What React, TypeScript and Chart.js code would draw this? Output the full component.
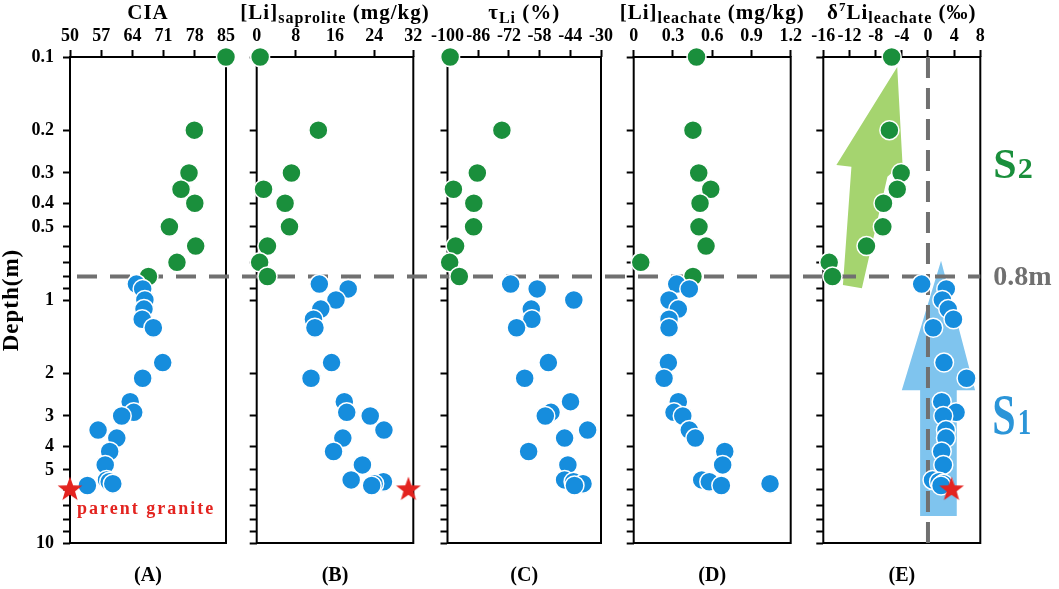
import React, { useEffect, useRef } from 'react';
import { Chart, registerables } from 'chart.js';

Chart.register(...registerables);

const SERIF = '"Liberation Serif", "Times New Roman", serif';
const GREEN = '#1a8f3c';
const BLUE = '#168ddd';
const GRAY = '#707070';
const RED = '#e3231f';
const H = 589;

// sample depths (m): upper profile S2 (green) and lower profile S1 (blue)
const upperDepth = [0.1, 0.2, 0.3, 0.35, 0.4, 0.5, 0.6, 0.7, 0.8];
const lowerDepth = [0.86, 0.9, 1.0, 1.09, 1.2, 1.3, 1.81, 2.1, 2.62, 2.9, 3.0, 3.43, 3.7, 4.2, 4.77, 5.5, 5.6, 5.7, 5.8];
const graniteDepth = 6;
const boundaryDepth = 0.8;

const depthTicks = [0.1, 0.2, 0.3, 0.4, 0.5, 0.6, 0.7, 0.8, 0.9, 1, 2, 3, 4, 5, 6, 7, 8, 9, 10];
const depthLabels = [0.1, 0.2, 0.3, 0.4, 0.5, 1, 2, 3, 4, 5, 10];

// (A) CIA
const ciaUpper = [85, 77.9, 76.7, 74.9, 78.0, 72.3, 78.2, 74.0, 67.6];
const ciaLower = [64.9, 66.3, 66.8, 66.6, 66.2, 68.7, 70.8, 66.3, 63.5, 64.3, 61.6, 56.3, 60.5, 58.9, 57.9, 58.2, 58.8, 59.6, 53.9];
const ciaGranite = 50;

// (B) [Li] saprolite (mg/kg)
const liSapUpper = [0.7, 12.6, 7.1, 1.4, 5.8, 6.7, 2.2, 0.6, 2.2];
const liSapLower = [12.8, 18.7, 16.2, 13.1, 11.6, 11.9, 15.3, 11.1, 17.9, 18.4, 23.2, 26.0, 17.6, 15.7, 21.6, 19.3, 25.9, 24.0, 23.5];
const liSapGranite = 31;

// (C) tau Li (%)
const tauUpper = [-98.8, -75.2, -86.4, -97.3, -88.0, -88.1, -96.3, -99.0, -94.6];
const tauLower = [-71.2, -59.1, -42.4, -61.8, -61.5, -68.5, -54.0, -64.8, -43.9, -52.8, -55.4, -36.1, -46.6, -63.0, -45.1, -46.6, -42.5, -38.2, -42.1];

// (D) [Li] leachate (mg/kg)
const liLeachUpper = [0.48, 0.453, 0.497, 0.589, 0.507, 0.499, 0.553, 0.054, 0.453];
const liLeachLower = [0.329, 0.425, 0.27, 0.341, 0.27, 0.27, 0.265, 0.232, 0.341, 0.308, 0.375, 0.425, 0.471, 0.696, 0.68, 0.52, 0.578, 1.042, 0.67];

// (E) d7Li leachate (permil)
const d7Upper = [-5.55, -5.9, -4.1, -4.7, -6.8, -6.9, -9.4, -15.1, -14.6];
const d7Lower = [-0.96, 2.8, 2.2, 3.1, 3.9, 0.8, 2.45, 5.9, 2.1, 4.3, 2.34, 2.75, 2.75, 2.1, 2.34, 0.7, 1.7, 2.34, 2.0];
const d7Granite = 3.6;

// trend arrows in panel (E), outline in data units
const s2ArrowDelta = [-4.7, -3.9, -6.2, -10.1, -13.0, -11.7, -14.0];
const s2ArrowDepth = [0.11, 0.274, 0.311, 0.895, 0.867, 0.283, 0.278];
const s1ArrowDelta = [2.0, 7.2, 4.4, 4.4, -1.2, -1.2, -4.0];
const s1ArrowDepth = [0.69, 2.35, 2.35, 7.74, 7.74, 2.35, 2.35];

type Seg = { t: string; k: 'm' | 's' | 'p' };
const segSize = { m: 21, s: 16, p: 13 };
const segShift = { m: 0, s: 4, p: -8 };

interface PanelDef {
  tag: string;
  left: number;
  width: number;
  plotLeft: number;
  plotRight: number;
  min: number;
  max: number;
  step: number;
  title: Seg[];
  upper: number[];
  lower: number[];
  granite?: number;
}

const panels: PanelDef[] = [
  { tag: '(A)', left: 0, width: 240, plotLeft: 70, plotRight: 227, min: 50, max: 85, step: 7,
    title: [{ t: 'CIA', k: 'm' }], upper: ciaUpper, lower: ciaLower, granite: ciaGranite },
  { tag: '(B)', left: 240, width: 188, plotLeft: 256.7, plotRight: 413.3, min: 0, max: 32, step: 8,
    title: [{ t: '[Li]', k: 'm' }, { t: 'saprolite', k: 's' }, { t: ' (mg/kg)', k: 'm' }],
    upper: liSapUpper, lower: liSapLower, granite: liSapGranite },
  { tag: '(C)', left: 428, width: 189, plotLeft: 444.7, plotRight: 601, min: -100, max: -30, step: 14,
    title: [{ t: 'τ', k: 'm' }, { t: 'Li', k: 's' }, { t: ' (%)', k: 'm' }], upper: tauUpper, lower: tauLower },
  { tag: '(D)', left: 617, width: 189, plotLeft: 633.7, plotRight: 790.7, min: 0, max: 1.2, step: 0.3,
    title: [{ t: '[Li]', k: 'm' }, { t: 'leachate', k: 's' }, { t: ' (mg/kg)', k: 'm' }],
    upper: liLeachUpper, lower: liLeachLower },
  { tag: '(E)', left: 806, width: 253, plotLeft: 823.3, plotRight: 980.3, min: -16, max: 8, step: 4,
    title: [{ t: 'δ', k: 'm' }, { t: '7', k: 'p' }, { t: 'Li', k: 'm' }, { t: 'leachate', k: 's' }, { t: ' (‰)', k: 'm' }],
    upper: d7Upper, lower: d7Lower, granite: d7Granite },
];

function makeStar(): HTMLCanvasElement {
  const c = document.createElement('canvas');
  c.width = 28;
  c.height = 28;
  const g = c.getContext('2d')!;
  g.beginPath();
  for (let i = 0; i < 10; i++) {
    const r = i % 2 === 0 ? 13 : 5.3;
    const a = -Math.PI / 2 + (i * Math.PI) / 5;
    const px = 14 + r * Math.cos(a);
    const py = 14.5 + r * Math.sin(a);
    if (i === 0) g.moveTo(px, py); else g.lineTo(px, py);
  }
  g.closePath();
  g.fillStyle = RED;
  g.fill();
  return c;
}

function drawRich(ctx: CanvasRenderingContext2D, segs: Seg[], cx: number, baseline: number) {
  ctx.save();
  (ctx as any).letterSpacing = '1px';
  ctx.textAlign = 'left';
  ctx.textBaseline = 'alphabetic';
  ctx.fillStyle = '#000';
  const widths = segs.map((s) => {
    ctx.font = `bold ${segSize[s.k]}px ${SERIF}`;
    return ctx.measureText(s.t).width;
  });
  let x = cx - widths.reduce((a, b) => a + b, 0) / 2;
  segs.forEach((s, i) => {
    ctx.font = `bold ${segSize[s.k]}px ${SERIF}`;
    ctx.fillText(s.t, x, baseline + segShift[s.k]);
    x += widths[i];
  });
  ctx.restore();
}

function drawPolygon(chart: Chart, xs: number[], ds: number[], color: string) {
  const { ctx } = chart;
  const x = chart.scales.x;
  const y = chart.scales.y;
  ctx.beginPath();
  xs.forEach((v, i) => {
    const px = x.getPixelForValue(v);
    const py = y.getPixelForValue(ds[i]);
    if (i === 0) ctx.moveTo(px, py); else ctx.lineTo(px, py);
  });
  ctx.closePath();
  ctx.fillStyle = color;
  ctx.fill();
}

const decoPlugin = (p: PanelDef) => ({
  id: 'deco',
  beforeDatasetsDraw(chart: Chart) {
    const { ctx, chartArea: a } = chart;
    const x = chart.scales.x;
    const y = chart.scales.y;
    const isA = p.tag === '(A)';
    const isE = p.tag === '(E)';
    ctx.save();
    if (isE) {
      drawPolygon(chart, s2ArrowDelta, s2ArrowDepth, '#a5d46f');
      drawPolygon(chart, s1ArrowDelta, s1ArrowDepth, '#7fc4ee');
    }
    ctx.strokeStyle = '#000';
    ctx.lineWidth = 2;
    ctx.strokeRect(a.left, a.top, a.right - a.left, a.bottom - a.top);

    ctx.strokeStyle = GRAY;
    ctx.lineWidth = 4;
    if (isE) {
      const zx = x.getPixelForValue(0);
      ctx.setLineDash([21, 10]);
      ctx.lineDashOffset = 0;
      ctx.beginPath();
      ctx.moveTo(zx, a.top);
      ctx.lineTo(zx, a.bottom);
      ctx.stroke();
    }
    const by = y.getPixelForValue(boundaryDepth);
    const x0 = isA ? a.left : 0;
    const x1 = isE ? a.right : chart.width;
    ctx.setLineDash([20, 13]);
    ctx.lineDashOffset = (((p.left + x0 - 77) % 33) + 33) % 33;
    ctx.beginPath();
    ctx.moveTo(x0, by);
    ctx.lineTo(x1, by);
    ctx.stroke();
    ctx.restore();
  },
  afterDraw(chart: Chart) {
    const { ctx, chartArea: a } = chart;
    const y = chart.scales.y;
    const cx = (a.left + a.right) / 2;
    drawRich(ctx, p.title, cx, 19);
    ctx.save();
    ctx.fillStyle = '#000';
    ctx.font = `bold 20px ${SERIF}`;
    ctx.textAlign = 'center';
    ctx.textBaseline = 'middle';
    ctx.fillText(p.tag, cx, 576);

    if (p.tag === '(A)') {
      ctx.save();
      (ctx as any).letterSpacing = '1px';
      ctx.translate(12, (a.top + a.bottom) / 2);
      ctx.rotate(-Math.PI / 2);
      ctx.font = `bold 23px ${SERIF}`;
      ctx.fillText('Depth(m)', 0, 0);
      ctx.restore();

      ctx.save();
      (ctx as any).letterSpacing = '2px';
      ctx.fillStyle = RED;
      ctx.font = `bold 18px ${SERIF}`;
      ctx.textAlign = 'left';
      ctx.textBaseline = 'alphabetic';
      ctx.fillText('parent granite', a.left + 7, y.getPixelForValue(7.6));
      ctx.restore();
    }

    if (p.tag === '(E)') {
      const tx = a.right + 13;
      ctx.textAlign = 'left';
      ctx.textBaseline = 'alphabetic';
      // S2
      ctx.fillStyle = GREEN;
      ctx.font = `bold 42px ${SERIF}`;
      const sW = ctx.measureText('S').width;
      const s2y = y.getPixelForValue(0.315);
      ctx.fillText('S', tx, s2y);
      ctx.font = `bold 30px ${SERIF}`;
      ctx.fillText('2', tx + sW + 1, s2y);
      // 0.8m
      ctx.fillStyle = GRAY;
      ctx.font = `bold 28px ${SERIF}`;
      ctx.textBaseline = 'middle';
      ctx.fillText('0.8m', tx, y.getPixelForValue(boundaryDepth) + 1);
      // S1
      ctx.textBaseline = 'alphabetic';
      const s1y = y.getPixelForValue(3.56);
      ctx.save();
      ctx.translate(tx - 1, s1y);
      ctx.scale(1, 1.35);
      ctx.fillStyle = '#2b95d8';
      ctx.font = `bold 42px ${SERIF}`;
      ctx.fillText('S', 0, 0);
      ctx.font = `bold 27px ${SERIF}`;
      ctx.fillText('1', sW + 2, 0);
      ctx.restore();
    }
    ctx.restore();
  },
});

const tickFont = { family: SERIF, size: 18, weight: 'bold' as const };

function buildConfig(p: PanelDef, star: HTMLCanvasElement): any {
  const isA = p.tag === '(A)';
  const pointBase = { borderColor: '#ffffff', borderWidth: 1.5, pointRadius: 9.5, pointHoverRadius: 9.5, clip: false as const };
  return {
    type: 'scatter',
    data: {
      datasets: [
        {
          label: 'parent granite',
          data: p.granite !== undefined ? [{ x: p.granite, y: graniteDepth }] : [],
          pointStyle: star,
          pointRadius: 13,
          clip: false,
          order: 0,
        },
        {
          label: 'S1',
          data: p.lower.map((v, i) => ({ x: v, y: lowerDepth[i] })),
          backgroundColor: BLUE,
          ...pointBase,
          order: 1,
        },
        {
          label: 'S2',
          data: p.upper.map((v, i) => ({ x: v, y: upperDepth[i] })),
          backgroundColor: GREEN,
          ...pointBase,
          order: 2,
        },
      ],
    },
    options: {
      animation: false,
      responsive: false,
      events: [],
      layout: { padding: { left: 0, top: 0, right: p.left + p.width - p.plotRight, bottom: H - 543 } },
      plugins: { legend: { display: false }, tooltip: { enabled: false }, title: { display: false } },
      scales: {
        x: {
          type: 'linear',
          position: 'top',
          min: p.min,
          max: p.max,
          ticks: { stepSize: p.step, font: tickFont, color: '#000', maxRotation: 0, autoSkip: false, padding: 3 },
          grid: { drawOnChartArea: false, drawTicks: true, tickLength: 7, tickColor: '#000', tickWidth: 2 },
          border: { display: false },
          afterFit: (s: any) => { s.height = 57; },
        },
        y: {
          type: 'logarithmic',
          position: 'left',
          reverse: true,
          min: 0.1,
          max: 10,
          afterBuildTicks: (s: any) => { s.ticks = depthTicks.map((v) => ({ value: v })); },
          ticks: {
            autoSkip: false,
            font: tickFont,
            color: '#000',
            padding: 9,
            callback: (v: number) => (isA && depthLabels.includes(v) ? String(v) : ''),
          },
          grid: { drawOnChartArea: false, drawTicks: true, tickLength: 7, tickColor: '#000', tickWidth: 2 },
          border: { display: false },
          afterFit: (s: any) => { s.width = p.plotLeft - p.left; },
        },
      },
    },
    plugins: [decoPlugin(p)],
  };
}

const Panel: React.FC<{ p: PanelDef }> = ({ p }) => {
  const canvasRef = useRef<HTMLCanvasElement | null>(null);

  useEffect(() => {
    if (!canvasRef.current) return;
    const chart = new Chart(canvasRef.current, buildConfig(p, makeStar()));
    return () => {
      chart.destroy();
    };
  }, [p]);

  return (
    <div style={{ position: 'absolute', left: p.left, top: 0, width: p.width, height: H }}>
      <canvas ref={canvasRef} width={p.width} height={H} />
    </div>
  );
};

const App: React.FC = () => (
  <div style={{ position: 'absolute', left: 0, top: 0, width: 1059, height: H, overflow: 'hidden', background: '#fff' }}>
    {panels.map((p) => (
      <Panel key={p.tag} p={p} />
    ))}
  </div>
);

export default App;
